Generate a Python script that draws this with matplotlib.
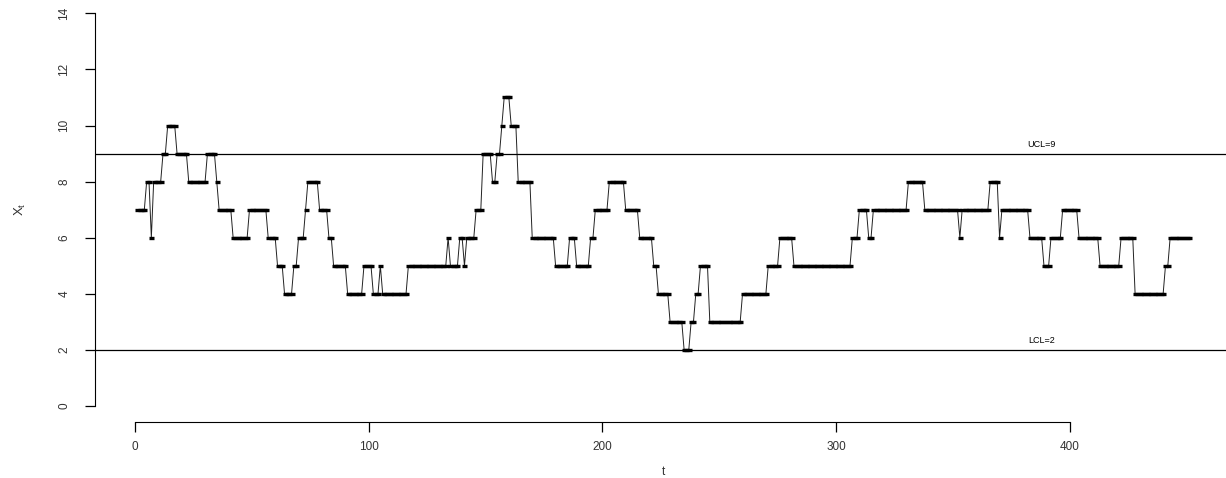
import numpy as np
import matplotlib.pyplot as plt

plt.rcParams['font.family'] = ['Liberation Sans Narrow', 'Liberation Sans', 'DejaVu Sans']

# count process, stored as runs of equal values
levels = [7, 8, 6, 8, 9, 10, 9, 8, 9, 8, 7, 6, 7, 6, 5, 4, 5, 6, 7, 8,
          7, 6, 5, 4, 5, 4, 5, 4, 5, 6, 5, 6, 5, 6, 7, 9, 8, 9, 10, 11,
          10, 8, 6, 5, 6, 5, 6, 7, 8, 7, 6, 5, 4, 3, 2, 3, 4, 5, 3, 4,
          5, 6, 5, 6, 7, 6, 7, 8, 7, 6, 7, 8, 6, 7, 6, 5, 6, 7, 6, 5,
          6, 4, 5, 6]
run_lengths = [4, 2, 1, 4, 2, 4, 5, 8, 4, 1, 6, 7, 8, 4, 3, 4, 2, 3, 1, 5,
               4, 2, 6, 7, 4, 3, 1, 11, 17, 1, 4, 2, 1, 4, 3, 4, 2, 2, 1, 3,
               3, 6, 10, 6, 3, 6, 2, 6, 7, 6, 6, 2, 5, 6, 3, 2, 2, 4, 14, 11,
               5, 6, 25, 3, 4, 2, 15, 7, 15, 1, 12, 4, 1, 12, 6, 3, 5, 7, 9, 9,
               6, 13, 2, 9]

ucl = 9
lcl = 2

x_t = np.repeat(levels, run_lengths)
t = np.arange(1, len(x_t) + 1)

fig = plt.figure(figsize=(12.26, 4.78), dpi=100)
ax = fig.add_axes([0.0777, 0.1178, 0.9263, 0.8872])

ax.plot(t, x_t, color='#222222', lw=0.7, marker='_', ms=3.6, mew=2.4,
        mec='black')
ax.axhline(ucl, color='black', lw=0.9)
ax.axhline(lcl, color='black', lw=0.9)
ax.text(388, ucl + 0.17, 'UCL=%d' % ucl, fontsize=6.5, ha='center', va='bottom')
ax.text(388, lcl + 0.17, 'LCL=%d' % lcl, fontsize=6.5, ha='center', va='bottom')

ax.set_xlim(-17, 469)
ax.set_ylim(-0.56, 14.56)
ax.set_xticks(range(0, 401, 100))
ax.set_yticks(range(0, 15, 2))
ax.spines['top'].set_visible(False)
ax.spines['right'].set_visible(False)
ax.spines['left'].set_bounds(0, 14)
ax.spines['bottom'].set_bounds(0, 400)
ax.tick_params(direction='out', length=7, width=0.9, labelsize=8.5,
               labelcolor='#333333')
ax.tick_params(axis='x', pad=7)
ax.tick_params(axis='y', pad=11)
for lab in ax.get_yticklabels():
    lab.set_rotation(90)
    lab.set_va('center')

ax.set_xlabel('t', fontsize=8.5, labelpad=9, color='#333333')
ax.set_ylabel(r'$\mathregular{X_t}$', fontsize=9.5, labelpad=22, color='#333333')

fig.savefig('out.png', dpi=100)
